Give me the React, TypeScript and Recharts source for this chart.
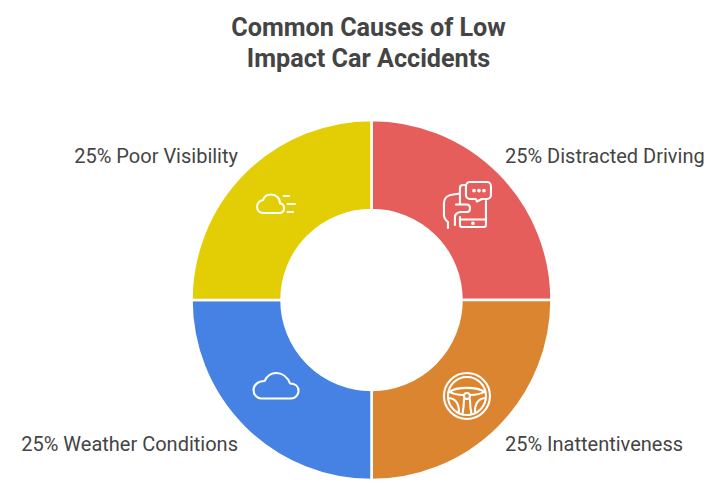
import React from 'react';
import { PieChart, Pie, Cell } from 'recharts';

const categories = ['Distracted Driving', 'Inattentiveness', 'Weather Conditions', 'Poor Visibility'];
const shares = [25, 25, 25, 25];
const colors = ['#E55E5B', '#DC8530', '#4681E4', '#E3CE06'];
const titleLines = ['Common Causes of Low', 'Impact Car Accidents'];

const data = categories.map((name, i) => ({ name, value: shares[i] }));

const TEXT_COLOR = '#444444';
const FONT = 'Roboto, sans-serif';
const CX = 371.5;
const CY = 300;

const lineProps = {
  fill: 'none',
  stroke: '#fff',
  strokeWidth: 2.1,
  strokeLinecap: 'round' as const,
  strokeLinejoin: 'round' as const,
};

const PhoneIcon = () => (
  <g transform="translate(-47,-44.5)" {...lineProps}>
    <path d="M50 22H67a4 4 0 0 1 4 4V35a4 4 0 0 1-4 4H62L57 41.5 56 39H50a4 4 0 0 1-4-4V26a4 4 0 0 1 4-4Z" />
    <circle cx={54} cy={30.5} r={0.8} fill="#fff" />
    <circle cx={59} cy={30.5} r={0.8} fill="#fff" />
    <circle cx={64} cy={30.5} r={0.8} fill="#fff" />
    <path d="M66 41V65a2 2 0 0 1-2 2H42a2 2 0 0 1-2-2V57" />
    <path d="M40 59.5H66" />
    <circle cx={53} cy={63.3} r={0.8} fill="#fff" />
    <path d="M40 44V28a3 3 0 0 1 3-3H45" />
    <path d="M28 68V62C25.5 60 24 58 24 55V43C24 38 28 35 33 34.5L40 33.5" />
    <path d="M36 44.5H47a3 3 0 0 1 3 3V49a3 3 0 0 1-3 3H41C38 52 35 54 35 57V65" />
  </g>
);

const WheelIcon = () => (
  <g transform="translate(-47,-44.5)" {...lineProps}>
    <circle cx={47} cy={45} r={23} />
    <circle cx={47} cy={45} r={19} />
    <circle cx={47} cy={45} r={3} />
    <path d="M29.5 41C36 35.5 58 35.5 64.5 41" />
    <path d="M29.5 41C33 43 38 44 43.5 44" />
    <path d="M50.5 44C56 44 61 43 64.5 41" />
    <path d="M28.5 47C35 47.5 39 52 39 61" />
    <path d="M65.5 47C59 47.5 55 52 55 61" />
    <path d="M44 48.5C44 54 43.5 58 42.5 63" />
    <path d="M50 48.5C50 54 50.5 58 51.5 63" />
  </g>
);

const HazeCloudIcon = () => (
  <g transform="translate(-41,-34.5)" {...lineProps}>
    <path d="M29 43H44C47 43 49 41 49 38C49 35 47 33.5 45 33.5C45 28 41 24.5 36 24.5C32 24.5 29 27 28 30C25 30.5 22 33 22 37C22 40.5 25 43 29 43Z" />
    <path d="M48.5 26H54" />
    <path d="M52.5 34H60" />
    <path d="M52.5 42H58" />
  </g>
);

const CloudIcon = () => (
  <g transform="translate(-41,-40.5)" {...lineProps}>
    <path d="M26 43.5H56C60 43.5 63.5 40 63.5 36C63.5 31.5 60 28.5 55 28.5C52.5 22 47 18 41 18C36 18 32 21 29.5 26C23 26 18.5 30 18.5 35C18.5 40 22 43.5 26 43.5Z" />
  </g>
);

const icons: Record<string, React.FC> = {
  'Distracted Driving': PhoneIcon,
  Inattentiveness: WheelIcon,
  'Weather Conditions': CloudIcon,
  'Poor Visibility': HazeCloudIcon,
};

const renderLabel = (props: any) => {
  const { cx, cy, midAngle, innerRadius, outerRadius, name, value } = props;
  const rad = (midAngle * Math.PI) / 180;
  const right = Math.cos(rad) > 0;
  const up = Math.sin(rad) > 0;
  const mid = (innerRadius + outerRadius) / 2;
  const Icon = icons[name];
  return (
    <g>
      <g transform={`translate(${cx + mid * Math.cos(rad)},${cy - mid * Math.sin(rad)})`}>
        <Icon />
      </g>
      <text
        x={cx + (right ? 133.5 : -133.5)}
        y={cy + (up ? -144 : 144)}
        textAnchor={right ? 'start' : 'end'}
        dominantBaseline="central"
        fontFamily={FONT}
        fontSize={20}
        fill={TEXT_COLOR}
      >
        {`${value}% ${name}`}
      </text>
    </g>
  );
};

export default function App() {
  return (
    <div style={{ position: 'absolute', left: 0, top: 0, width: 720, height: 493, background: '#fff' }}>
      <PieChart width={720} height={493} margin={{ top: 0, right: 0, bottom: 0, left: 0 }}>
        {titleLines.map((line, i) => (
          <text
            key={line}
            x={368.5}
            y={27 + i * 31}
            textAnchor="middle"
            dominantBaseline="central"
            fontFamily={FONT}
            fontSize={25.2}
            fontWeight={700}
            fill={TEXT_COLOR}
          >
            {line}
          </text>
        ))}
        <Pie
          data={data}
          dataKey="value"
          nameKey="name"
          cx={CX}
          cy={CY}
          innerRadius={90}
          outerRadius={180}
          startAngle={90}
          endAngle={-270}
          stroke="#fff"
          strokeWidth={2.5}
          label={renderLabel}
          labelLine={false}
          isAnimationActive={false}
        >
          {data.map((d, i) => (
            <Cell key={d.name} fill={colors[i]} />
          ))}
        </Pie>
      </PieChart>
    </div>
  );
}
